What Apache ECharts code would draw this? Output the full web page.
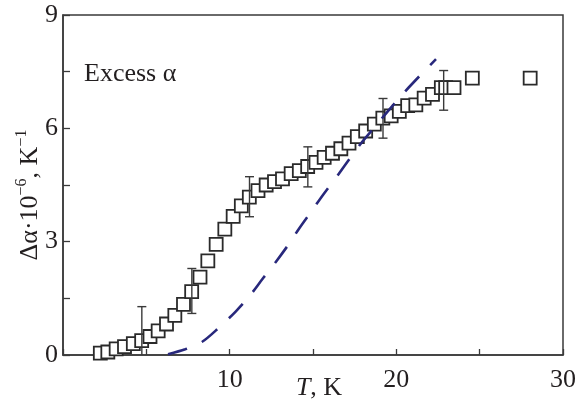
<!DOCTYPE html>
<html>
<head>
<meta charset="utf-8">
<script src="https://cdn.jsdelivr.net/npm/echarts@6/dist/echarts.min.js"></script>
<style>
  html, body { margin: 0; padding: 0; background: #fff; }
  #chart { width: 579px; height: 401px; }
</style>
</head>
<body>
<div id="chart"></div>
<script>
// measured points (T in K, excess alpha in 1e-6 / K)
var tempK = [2.24, 2.69, 3.19, 3.69, 4.22, 4.72, 5.22, 5.71, 6.21, 6.71, 7.23, 7.72, 8.22, 8.69, 9.19, 9.71,
  10.21, 10.70, 11.18, 11.70, 12.19, 12.69, 13.17, 13.69, 14.18, 14.68, 15.18, 15.67, 16.17, 16.67, 17.16,
  17.66, 18.16, 18.68, 19.19, 19.69, 20.18, 20.68, 21.17, 21.67, 22.17, 22.70, 22.96, 23.46, 24.56, 28.03];
var excessAlpha = [0.05, 0.08, 0.16, 0.22, 0.30, 0.38, 0.49, 0.64, 0.82, 1.05, 1.34, 1.68, 2.06, 2.49, 2.93, 3.33,
  3.67, 3.95, 4.18, 4.35, 4.50, 4.59, 4.66, 4.80, 4.88, 4.99, 5.10, 5.23, 5.34, 5.46, 5.61,
  5.78, 5.93, 6.11, 6.27, 6.33, 6.45, 6.60, 6.62, 6.80, 6.90, 7.08, 7.08, 7.08, 7.33, 7.33];

// error bars
var errT = [4.73, 7.73, 11.19, 14.69, 19.20, 22.84];
var errLow = [0, 1.10, 3.66, 4.45, 5.74, 6.48];
var errHigh = [1.28, 2.29, 4.72, 5.51, 6.79, 7.53];

// dashed curve
var curveT = [6.3, 7.33, 8.35, 9.32, 10.36, 11.19, 12.0, 12.78, 13.54, 14.17, 14.93, 15.62, 16.42, 17.11,
  17.91, 18.71, 19.6, 20.45, 21.45, 22.38];
var curveAlpha = [0.02, 0.15, 0.35, 0.71, 1.15, 1.56, 2.03, 2.47, 2.93, 3.35, 3.82, 4.25, 4.72, 5.14,
  5.62, 6.04, 6.51, 6.94, 7.41, 7.83];

var xLabels = [10, 20, 30];
var yLabels = [0, 3, 6, 9];

var FONT = 'Liberation Serif';
var INK = '#231f20';

var chart = echarts.init(document.getElementById('chart'));

var points = tempK.map(function (t, i) { return [t, excessAlpha[i]]; });
var bars = errT.map(function (t, i) { return [t, errLow[i], errHigh[i]]; });
var curve = curveT.map(function (t, i) { return [t, curveAlpha[i]]; });

function renderErr(params, api) {
  var lo = api.coord([api.value(0), api.value(1)]);
  var hi = api.coord([api.value(0), api.value(2)]);
  var w = 4.5;
  var st = { stroke: '#3a3a3a', lineWidth: 1.4 };
  var kids = [
    { type: 'line', shape: { x1: lo[0], y1: lo[1], x2: hi[0], y2: hi[1] }, style: st },
    { type: 'line', shape: { x1: hi[0] - w, y1: hi[1], x2: hi[0] + w, y2: hi[1] }, style: st }
  ];
  if (api.value(1) > 0) {
    kids.push({ type: 'line', shape: { x1: lo[0] - w, y1: lo[1], x2: lo[0] + w, y2: lo[1] }, style: st });
  }
  return { type: 'group', children: kids };
}

var option = {
  animation: false,
  backgroundColor: '#fff',
  grid: {
    left: 63, right: 13, top: 15, bottom: 46,
    show: true, borderColor: '#3a3a3a', borderWidth: 1.5, backgroundColor: 'transparent'
  },
  xAxis: {
    type: 'value', min: 0, max: 30, interval: 5,
    axisLine: { lineStyle: { color: '#3a3a3a', width: 1.5 } },
    axisTick: { inside: true, length: 6, lineStyle: { color: '#3a3a3a', width: 1.3 } },
    splitLine: { show: false },
    axisLabel: {
      margin: 12, color: INK, fontFamily: FONT, fontSize: 26,
      formatter: function (v) { return xLabels.indexOf(v) >= 0 ? String(v) : ''; }
    }
  },
  yAxis: {
    type: 'value', min: 0, max: 9, interval: 1.5,
    axisLine: { lineStyle: { color: '#3a3a3a', width: 1.5 } },
    axisTick: { inside: true, length: 7, lineStyle: { color: '#3a3a3a', width: 1.3 } },
    splitLine: { show: false },
    axisLabel: {
      margin: 5, color: INK, fontFamily: FONT, fontSize: 26,
      formatter: function (v) { return yLabels.indexOf(v) >= 0 ? String(v) : ''; }
    }
  },
  graphic: [
    {
      type: 'text', left: 84, top: 61,
      style: { text: 'Excess α', fill: INK, font: '26px "Liberation Serif"' }
    },
    {
      type: 'text', x: 319, y: 388,
      style: {
        text: '{i|T}{n|, K}', fill: INK, align: 'center', verticalAlign: 'middle',
        rich: {
          i: { fontFamily: FONT, fontSize: 26, fontStyle: 'italic', color: INK },
          n: { fontFamily: FONT, fontSize: 26, color: INK }
        }
      }
    },
    {
      type: 'text', x: 30, y: 195, rotation: Math.PI / 2,
      style: {
        text: '{a|Δα·10}{s|−6}{a|, K}{s|−1}', fill: INK, align: 'center', verticalAlign: 'middle',
        rich: {
          a: { fontFamily: FONT, fontSize: 26, color: INK, lineHeight: 32 },
          s: { fontFamily: FONT, fontSize: 16, color: INK, verticalAlign: 'top', lineHeight: 32 }
        }
      }
    }
  ],
  series: [
    {
      type: 'scatter', data: points, symbol: 'rect', symbolSize: 13, z: 2,
      itemStyle: { color: '#fff', borderColor: '#2a2a2a', borderWidth: 1.8, opacity: 1 }
    },
    {
      type: 'custom', data: bars, renderItem: renderErr, z: 3
    },
    {
      type: 'line', data: curve, showSymbol: false, smooth: 0.3, z: 4,
      lineStyle: { color: '#28287c', width: 2.6, type: [20, 16] }
    }
  ]
};

chart.setOption(option);
</script>
</body>
</html>
